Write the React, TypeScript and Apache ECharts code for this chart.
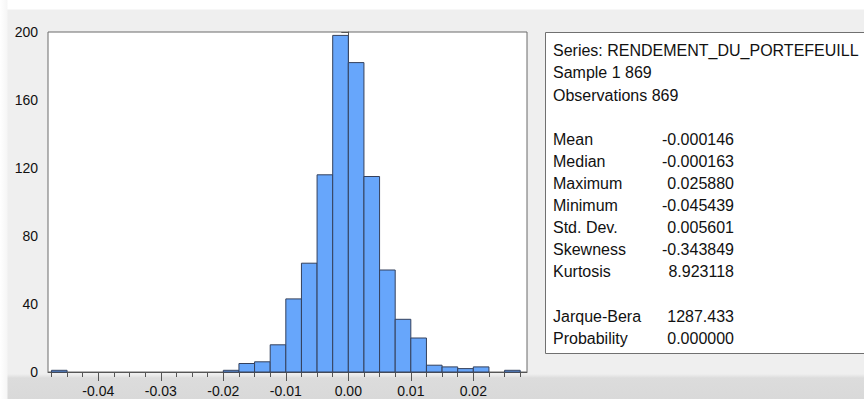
import React, { useEffect, useRef } from "react";
import * as echarts from "echarts";

// Histogram bins (lower edges), bin width 0.0025
const binLower = [
  -0.0475, -0.045, -0.0425, -0.04, -0.0375, -0.035, -0.0325, -0.03, -0.0275, -0.025,
  -0.0225, -0.02, -0.0175, -0.015, -0.0125, -0.01, -0.0075, -0.005, -0.0025, 0.0,
  0.0025, 0.005, 0.0075, 0.01, 0.0125, 0.015, 0.0175, 0.02, 0.0225, 0.025,
];
const binUpper = [
  -0.045, -0.0425, -0.04, -0.0375, -0.035, -0.0325, -0.03, -0.0275, -0.025, -0.0225,
  -0.02, -0.0175, -0.015, -0.0125, -0.01, -0.0075, -0.005, -0.0025, 0.0, 0.0025,
  0.005, 0.0075, 0.01, 0.0125, 0.015, 0.0175, 0.02, 0.0225, 0.025, 0.0275,
];
const counts = [
  1, 0, 0, 0, 0, 0, 0, 0, 0, 0,
  0, 1, 5, 6, 16, 43, 64, 116, 198, 182,
  115, 60, 31, 20, 4, 3, 2, 3, 0, 1,
];
const minorTicks = [
  -0.0475, -0.045, -0.0425, -0.04, -0.0375, -0.035, -0.0325, -0.03, -0.0275, -0.025,
  -0.0225, -0.02, -0.0175, -0.015, -0.0125, -0.01, -0.0075, -0.005, -0.0025, 0.0,
  0.0025, 0.005, 0.0075, 0.01, 0.0125, 0.015, 0.0175, 0.02, 0.0225, 0.025, 0.0275,
];
const xTickLabels = [-0.04, -0.03, -0.02, -0.01, 0.0, 0.01, 0.02];
const yTicks = [0, 40, 80, 120, 160, 200];

const headerLines = [
  "Series: RENDEMENT_DU_PORTEFEUILL",
  "Sample 1 869",
  "Observations 869",
];
const statLabels = [
  "Mean", "Median", "Maximum", "Minimum", "Std. Dev.", "Skewness", "Kurtosis",
];
const statValues = [
  "-0.000146", "-0.000163", "0.025880", "-0.045439", "0.005601", "-0.343849", "8.923118",
];
const testLabels = ["Jarque-Bera", "Probability"];
const testValues = ["1287.433", "0.000000"];

const FONT = "'Liberation Sans', Arial, sans-serif";

export default function App() {
  const ref = useRef<HTMLDivElement>(null);

  useEffect(() => {
    document.body.style.margin = "0";
    if (!ref.current) return;
    const chart = echarts.init(ref.current, null, { renderer: "svg" });

    const barData = binLower.map((lo, i) => [lo, binUpper[i], counts[i]]);

    const graphics: any[] = [];
    graphics.push({
      type: "rect",
      shape: { x: 545.5, y: 32.5, width: 340, height: 321 },
      style: { fill: "#ffffff", stroke: "#707070", lineWidth: 1 },
      z: 1,
    });
    const textStyle = (t: string, x: number, y: number, align: string) => ({
      type: "text",
      x,
      y,
      style: {
        text: t,
        fill: "#111111",
        font: `16px ${FONT}`,
        textAlign: align,
        textVerticalAlign: "middle",
      },
      z: 2,
    });
    const headerY = [50, 72.5, 95];
    headerLines.forEach((t, i) => graphics.push(textStyle(t, 553, headerY[i], "left")));
    const statY = [139.5, 161.5, 183.5, 205.5, 227.5, 249.5, 271.5];
    statLabels.forEach((t, i) => {
      graphics.push(textStyle(t, 553, statY[i], "left"));
      graphics.push(textStyle(statValues[i], 734, statY[i], "right"));
    });
    const testY = [316, 338];
    testLabels.forEach((t, i) => {
      graphics.push(textStyle(t, 553, testY[i], "left"));
      graphics.push(textStyle(testValues[i], 734, testY[i], "right"));
    });

    const xMin = -0.04805;
    const xMax = 0.02859;

    chart.setOption({
      animation: false,
      backgroundColor: "transparent",
      grid: {
        left: 48,
        top: 32,
        width: 479,
        height: 340,
        show: true,
        backgroundColor: "#ffffff",
        borderColor: "#6b6b6b",
        borderWidth: 1,
      },
      xAxis: [
        {
          type: "value",
          min: xMin,
          max: xMax,
          position: "bottom",
          axisLine: { show: true, onZero: false, lineStyle: { color: "#555555", width: 1 } },
          axisTick: {
            show: true,
            length: 9,
            customValues: xTickLabels,
            lineStyle: { color: "#555555" },
          },
          axisLabel: {
            show: true,
            customValues: xTickLabels,
            margin: 12,
            color: "#111111",
            fontSize: 14,
            fontFamily: FONT,
            formatter: (v: number) => v.toFixed(2),
          },
          splitLine: { show: false },
        },
        {
          type: "value",
          min: xMin,
          max: xMax,
          position: "bottom",
          axisLine: { show: false },
          axisTick: {
            show: true,
            length: 5,
            customValues: minorTicks,
            lineStyle: { color: "#555555" },
          },
          axisLabel: { show: false },
          splitLine: { show: false },
        },
      ],
      yAxis: {
        type: "value",
        min: 0,
        max: 200,
        interval: 40,
        axisLine: { show: true, lineStyle: { color: "#555555" } },
        axisTick: { show: true, length: 7, lineStyle: { color: "#555555" } },
        axisLabel: {
          margin: 10,
          color: "#111111",
          fontSize: 14,
          fontFamily: FONT,
          customValues: yTicks,
        },
        splitLine: { show: false },
      },
      series: [
        {
          type: "custom",
          xAxisIndex: 0,
          yAxisIndex: 0,
          data: barData,
          encode: { x: [0, 1], y: 2 },
          renderItem: (params: any, api: any) => {
            const lo = api.value(0);
            const hi = api.value(1);
            const c = api.value(2);
            if (!c) return null;
            const p0 = api.coord([lo, c]);
            const p1 = api.coord([hi, 0]);
            return {
              type: "rect",
              shape: { x: p0[0], y: p0[1], width: p1[0] - p0[0], height: p1[1] - p0[1] },
              style: { fill: "#67a6fb", stroke: "#34405c", lineWidth: 1 },
            };
          },
        },
      ],
      graphic: graphics,
    });

    return () => chart.dispose();
  }, []);

  return (
    <div
      style={{
        position: "relative",
        width: 864,
        height: 399,
        background:
          "linear-gradient(to right, #ffffff 0px, #f6f6f6 7px, transparent 8px), linear-gradient(to bottom, #ffffff 0px, #ffffff 9px, #efefef 10px, #efefef 374px, #dcdcdc 378px, #d9d9d9 399px)",
      }}
    >
      <div ref={ref} style={{ width: 864, height: 399 }} />
    </div>
  );
}
